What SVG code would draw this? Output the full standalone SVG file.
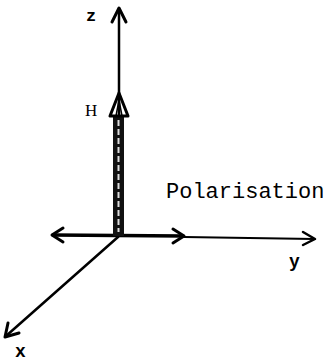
<svg xmlns="http://www.w3.org/2000/svg" width="333" height="361" viewBox="0 0 333 361">
<style>
.ax{stroke:#000;fill:none;stroke-linecap:round;stroke-linejoin:round}
.lbl{font-family:"Liberation Mono","Courier New",monospace;font-weight:bold;fill:#000}
.txt{font-family:"Liberation Mono","Courier New",monospace;fill:#000}
</style>
<rect width="333" height="361" fill="#fff"/>
<g id="connectors">
  <g id="z-axis">
    <line class="ax" x1="119" y1="236" x2="119" y2="9" stroke-width="2.5"/>
    <polyline class="ax" points="112,22 119,8 126,22" stroke-width="3"/>
  </g>
  <g id="y-axis">
    <line class="ax" x1="184" y1="237" x2="314" y2="239" stroke-width="2"/>
    <polyline class="ax" points="303,232 315,239 303,245" stroke-width="2.5"/>
  </g>
  <g id="x-axis">
    <line class="ax" x1="118" y1="237" x2="6" y2="336" stroke-width="2.5"/>
    <polyline class="ax" points="8,323 5,337 19,333" stroke-width="3"/>
  </g>
  <g id="polarisation-arrow">
    <line class="ax" x1="53" y1="235" x2="183" y2="236" stroke-width="3.5"/>
    <polyline class="ax" points="63,228 52,235 63,242" stroke-width="3"/>
    <polyline class="ax" points="173,229 184,236 173,243" stroke-width="3"/>
  </g>
  <g id="H-arrow">
    <rect x="113" y="115" width="11" height="121" fill="#111"/>
    <line x1="118.5" y1="120" x2="118.5" y2="232" stroke="#ddd" stroke-width="2" stroke-dasharray="6,3"/>
    <polygon class="ax" points="119,93 110,116 128,116" stroke-width="3"/>
    <polyline class="ax" points="116,116 119,100 122,116" stroke-width="1.5"/>
  </g>
</g>
<g id="label-z"><text class="lbl" x="86" y="21" font-size="17">z</text></g>
<g id="label-H"><text x="85" y="116" font-family="Liberation Serif,Times New Roman,serif" font-size="17">H</text></g>
<g id="label-polarisation"><text class="txt" x="166" y="198" font-size="22">Polarisation</text></g>
<g id="label-y"><text class="lbl" x="289" y="267" font-size="18">y</text></g>
<g id="label-x"><text class="lbl" x="15" y="357" font-size="18">x</text></g>
</svg>
